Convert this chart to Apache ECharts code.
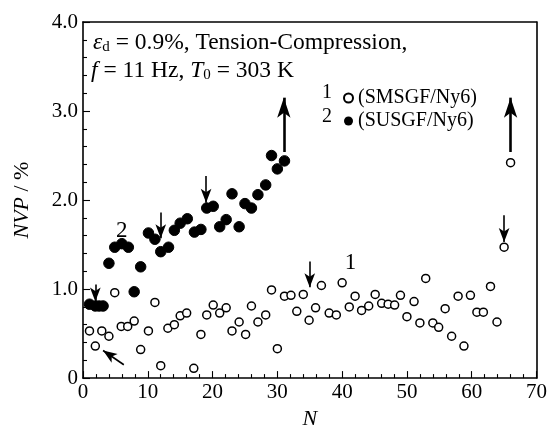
<!DOCTYPE html>
<html>
<head>
<meta charset="utf-8">
<script src="https://cdn.jsdelivr.net/npm/echarts@6/dist/echarts.min.js"></script>
<style>html,body{margin:0;padding:0;background:#fff}#c{width:550px;height:435px}</style>
</head>
<body>
<div id="c"></div>
<script>
// Series 1: open circles (SMSGF/Ny6)
const openN = [1,1.9,2.9,4,4.9,5.9,6.9,7.9,8.9,10.1,11.1,12,13.1,14.1,15,16,17.1,18.2,19.1,20.1,21.1,22.1,23,24.1,25.1,26,27,28.2,29.1,30,31.1,32.1,33,34,34.9,35.9,36.8,38,39.1,40,41.1,42,43,44.1,45.1,46.1,47.1,48.1,49,50,51.1,52,52.9,54,54.9,55.9,56.9,57.9,58.8,59.8,60.8,61.8,62.9,63.9,65,66];
const openV = [0.53,0.36,0.53,0.47,0.96,0.58,0.58,0.64,0.32,0.53,0.85,0.14,0.56,0.60,0.70,0.73,0.11,0.49,0.71,0.82,0.73,0.79,0.53,0.63,0.49,0.81,0.63,0.71,0.99,0.33,0.92,0.93,0.75,0.94,0.65,0.79,1.04,0.73,0.71,1.07,0.80,0.92,0.76,0.81,0.94,0.84,0.83,0.82,0.93,0.69,0.86,0.62,1.12,0.62,0.57,0.78,0.47,0.92,0.36,0.93,0.74,0.74,1.03,0.63,1.47,2.42];
// Series 2: filled circles (SUSGF/Ny6)
const fillN = [1,1.9,2.5,3.1,4,4.9,6,7,7.9,8.9,10.1,11.1,12,13.2,14.1,15,16.1,17.2,18.2,19.1,20.1,21.1,22.1,23,24.1,25,26,27,28.2,29.1,30,31.1];
const fillV = [0.83,0.81,0.81,0.81,1.29,1.47,1.51,1.47,0.97,1.25,1.63,1.56,1.42,1.47,1.66,1.74,1.79,1.64,1.67,1.91,1.93,1.70,1.78,2.07,1.70,1.96,1.91,2.06,2.17,2.50,2.35,2.44];
const seriesNames = ['(SMSGF/Ny6)', '(SUSGF/Ny6)'];
// Arrows: [fromN, fromV, toN, toV]
const downArrows = [[1.9,1.05,1.9,0.86],[12,1.86,12,1.57],[19,2.27,19,1.97],[35,1.31,35,1.02],[65,1.83,65,1.53]];
const upArrows = [[31,2.54,31,3.15],[66,2.54,66,3.15]];
const diagArrows = [[6.3,0.15,3.1,0.31]];
// Curve labels
const curveLabels = [['1',41.3,1.29],['2',6.0,1.65]];
const xTicks = {min:0,max:70,interval:10};
const yTicks = {min:0,max:4,interval:1};

const F = 'Liberation Serif';
const zip = (a,b)=>a.map((v,i)=>[v,b[i]]);
const arrowData = (arr)=>arr.map(a=>[{coord:[a[0],a[1]]},{coord:[a[2],a[3]]}]);

const chart = echarts.init(document.getElementById('c'), null, {renderer:'canvas'});
chart.setOption({
  animation:false,
  backgroundColor:'#fff',
  grid:{left:83,right:13,top:22,bottom:48},
  xAxis:[{
    type:'value',min:xTicks.min,max:xTicks.max,interval:xTicks.interval,
    name:'N',nameLocation:'middle',nameGap:29,
    nameTextStyle:{fontFamily:F,fontSize:22,fontStyle:'italic',color:'#000'},
    axisLine:{show:true,lineStyle:{color:'#000',width:1.6}},
    axisTick:{show:true,inside:true,length:7,lineStyle:{color:'#000',width:1.1}},
    minorTick:{show:true,splitNumber:5,length:4,lineStyle:{color:'#000',width:1.1}},
    axisLabel:{fontFamily:F,fontSize:21,color:'#000',margin:4},
    splitLine:{show:false}
  },{
    type:'value',position:'top',min:xTicks.min,max:xTicks.max,interval:xTicks.interval,
    axisLine:{show:true,onZero:false,lineStyle:{color:'#000',width:1.6}},
    axisTick:{show:false},axisLabel:{show:false},splitLine:{show:false}
  }],
  yAxis:[{
    type:'value',min:yTicks.min,max:yTicks.max,interval:yTicks.interval,
    name:'{i|NVP} / %',nameLocation:'middle',nameGap:50,
    nameTextStyle:{fontFamily:F,fontSize:22,color:'#000',rich:{i:{fontFamily:F,fontSize:22,fontStyle:'italic',color:'#000'}}},
    axisLine:{show:true,lineStyle:{color:'#000',width:1.6}},
    axisTick:{show:true,inside:true,length:7,lineStyle:{color:'#000',width:1.1}},
    minorTick:{show:true,splitNumber:5,length:4,lineStyle:{color:'#000',width:1.1}},
    axisLabel:{fontFamily:F,fontSize:21,color:'#000',margin:5,formatter:v=>v===0?'0':v.toFixed(1)},
    splitLine:{show:false}
  },{
    type:'value',position:'right',min:yTicks.min,max:yTicks.max,interval:yTicks.interval,
    axisLine:{show:true,onZero:false,lineStyle:{color:'#000',width:1.6}},
    axisTick:{show:false},axisLabel:{show:false},splitLine:{show:false}
  }],
  legend:{
    orient:'vertical',left:338,top:83,itemWidth:9,itemHeight:9,itemGap:3,
    data:seriesNames,
    textStyle:{fontFamily:F,fontSize:20,color:'#000',padding:[0,0,0,0]}
  },
  graphic:[
    {type:'text',left:93,top:31,style:{
      text:'{e|ε}{s|d} = 0.9%, Tension-Compression,',
      font:'23.5px "Liberation Serif"',fill:'#000',
      rich:{e:{fontFamily:F,fontSize:23.5,fontStyle:'italic'},s:{fontFamily:F,fontSize:15,padding:[9,0,0,0]}}
    }},
    {type:'text',left:91,top:59,style:{
      text:'{i|f} = 11 Hz, {i|T}{s|0} = 303 K',
      font:'23.5px "Liberation Serif"',fill:'#000',
      rich:{i:{fontFamily:F,fontSize:23.5,fontStyle:'italic'},s:{fontFamily:F,fontSize:15,padding:[9,0,0,0]}}
    }},
    {type:'text',left:322,top:83,style:{text:'1',font:'20px "Liberation Serif"',fill:'#000'}},
    {type:'text',left:322,top:107,style:{text:'2',font:'20px "Liberation Serif"',fill:'#000'}}
  ],
  series:[
    {
      name:seriesNames[0],type:'scatter',symbol:'circle',symbolSize:8,
      itemStyle:{color:'#fff',borderColor:'#000',borderWidth:1.5,opacity:1},
      data:zip(openN,openV),z:3,
      markLine:{
        silent:true,symbol:['none','arrow'],symbolSize:[8,14],
        label:{show:false},
        lineStyle:{color:'#000',width:1.6,type:'solid'},
        data:arrowData(downArrows.concat(diagArrows))
      }
    },
    {
      name:seriesNames[1],type:'scatter',symbol:'circle',symbolSize:10.5,
      itemStyle:{color:'#000',borderColor:'#000',opacity:1},
      data:zip(fillN,fillV),z:4,
      markLine:{
        silent:true,symbol:['none','arrow'],symbolSize:[10,20],
        label:{show:false},
        lineStyle:{color:'#000',width:2.6,type:'solid'},
        data:arrowData(upArrows)
      }
    },
    {
      type:'scatter',symbolSize:0,silent:true,
      itemStyle:{opacity:1},
      data:curveLabels.map(c=>({value:[c[1],c[2]],name:c[0]})),
      label:{show:true,position:'inside',formatter:p=>p.name,fontFamily:F,fontSize:23,color:'#000'}
    }
  ]
});
</script>
</body>
</html>
